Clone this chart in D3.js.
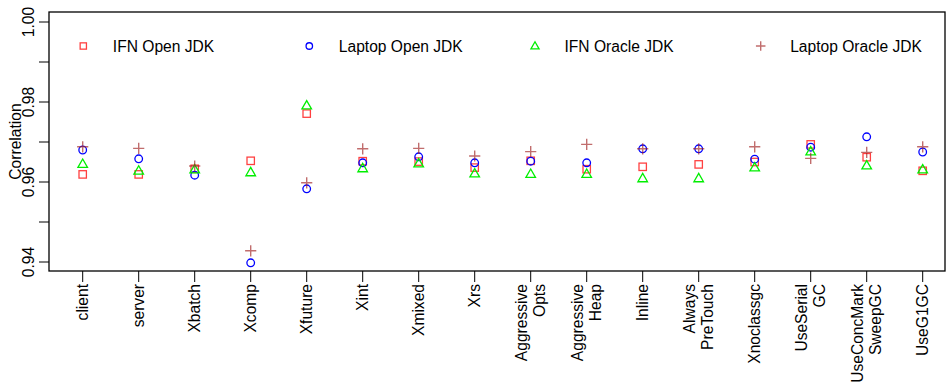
<!DOCTYPE html>
<html>
<head>
<meta charset="utf-8">
<script src="https://cdn.jsdelivr.net/npm/d3@7"></script>
<style>
  body { margin: 0; background: #fff; }
  svg text { font-family: "Liberation Sans", Arial, sans-serif; font-size: 15.6px; fill: #000; }
</style>
</head>
<body>
<svg id="chart" width="946" height="387"></svg>
<script>
// categories (multi-line labels split by lines)
var categories = [["client"], ["server"], ["Xbatch"], ["Xcomp"], ["Xfuture"], ["Xint"], ["Xmixed"], ["Xrs"],
  ["Aggressive", "Opts"], ["Aggressive", "Heap"], ["Inline"], ["Always", "PreTouch"], ["Xnoclassgc"],
  ["UseSerial", "GC"], ["UseConcMark", "SweepGC"], ["UseG1GC"]]

var ifnOpen      = [0.9619, 0.9619, 0.9633, 0.9653, 0.9771, 0.9652, 0.9651, 0.9636, 0.9653, 0.9632, 0.9638, 0.9644, 0.9650, 0.9694, 0.9662, 0.9628]
var laptopOpen   = [0.9680, 0.9658, 0.9617, 0.9398, 0.9583, 0.9648, 0.9663, 0.9648, 0.9652, 0.9648, 0.9683, 0.9683, 0.9657, 0.9687, 0.9713, 0.9675]
var ifnOracle    = [0.9645, 0.9628, 0.9631, 0.9624, 0.9791, 0.9634, 0.9646, 0.9621, 0.9620, 0.9620, 0.9609, 0.9609, 0.9636, 0.9676, 0.9641, 0.9631]
var laptopOracle = [0.9688, 0.9684, 0.9640, 0.9428, 0.9598, 0.9683, 0.9684, 0.9665, 0.9676, 0.9694, 0.9683, 0.9683, 0.9688, 0.9659, 0.9674, 0.9688]

var yTicks = [0.94, 0.95, 0.96, 0.97, 0.98, 0.99, 1.00]
var yLabels = [0.94, 0.96, 0.98, 1.00]

var series = [
  {name: "IFN Open JDK", values: ifnOpen, shape: "square", color: "rgba(255,0,0,0.75)"},
  {name: "Laptop Open JDK", values: laptopOpen, shape: "circle", color: "#0000ff"},
  {name: "IFN Oracle JDK", values: ifnOracle, shape: "triangle", color: "#00ee00"},
  {name: "Laptop Oracle JDK", values: laptopOracle, shape: "plus", color: "rgba(160,30,30,0.65)"}
]

var svg = d3.select("#chart")
var box = {left: 49, right: 945, top: 12, bottom: 271}

var x = d3.scalePoint()
    .domain(d3.range(categories.length))
    .range([82.7, 922.7])

var y = d3.scaleLinear()
    .domain([0.94, 1.00])
    .range([262, 22])

// marker drawing, k scales the marker size
function drawMarker(g, shape, color, cx, cy, k) {
  k = k || 1
  if (shape == "square") {
    var s = 3.7 * k
    g.append("rect")
      .attr("x", cx - s).attr("y", cy - s)
      .attr("width", 2 * s).attr("height", 2 * s)
      .attr("fill", "none").attr("stroke", color).attr("stroke-width", 1.3)
  } else if (shape == "circle") {
    g.append("circle")
      .attr("cx", cx).attr("cy", cy).attr("r", 3.8 * k)
      .attr("fill", "none").attr("stroke", color).attr("stroke-width", 1.3)
  } else if (shape == "triangle") {
    var h = 8.4 * k, w = 9.6 * k
    g.append("path")
      .attr("d", "M" + cx + "," + (cy - h * 0.6) + "L" + (cx + w / 2) + "," + (cy + h * 0.4) + "L" + (cx - w / 2) + "," + (cy + h * 0.4) + "Z")
      .attr("fill", "none").attr("stroke", color).attr("stroke-width", 1.3)
  } else {
    var a = 5.6 * k
    g.append("path")
      .attr("d", "M" + (cx - a) + "," + cy + "H" + (cx + a) + "M" + cx + "," + (cy - a) + "V" + (cy + a))
      .attr("fill", "none").attr("stroke", color).attr("stroke-width", 1.4)
  }
}

/* points */
var pts = svg.append("g").attr("class", "points")
series.forEach(function(s) {
  s.values.forEach(function(v, i) {
    drawMarker(pts, s.shape, s.color, x(i), y(v))
  })
})

/* box */
svg.append("rect")
  .attr("x", box.left).attr("y", box.top)
  .attr("width", box.right - box.left).attr("height", box.bottom - box.top)
  .attr("fill", "none").attr("stroke", "#000").attr("stroke-width", 1.3)

/* y axis */
var yAxis = svg.append("g").attr("class", "y-axis")
yAxis.selectAll("line")
    .data(yTicks)
  .enter().append("line")
    .attr("x1", box.left - 10).attr("x2", box.left)
    .attr("y1", function(d) { return y(d) }).attr("y2", function(d) { return y(d) })
    .attr("stroke", "#000").attr("stroke-width", 1)
yAxis.selectAll("text")
    .data(yLabels)
  .enter().append("text")
    .attr("transform", function(d) { return "translate(34," + y(d) + ") rotate(-90)" })
    .attr("text-anchor", "middle")
    .text(function(d) { return d3.format(".2f")(d) })

svg.append("text")
  .attr("transform", "translate(21," + ((box.top + box.bottom) / 2) + ") rotate(-90)")
  .attr("text-anchor", "middle")
  .text("Correlation")

/* x axis */
var xAxis = svg.append("g").attr("class", "x-axis")
xAxis.selectAll("line")
    .data(categories)
  .enter().append("line")
    .attr("x1", function(d, i) { return x(i) }).attr("x2", function(d, i) { return x(i) })
    .attr("y1", box.bottom).attr("y2", box.bottom + 11)
    .attr("stroke", "#000").attr("stroke-width", 1)

var labels = xAxis.selectAll("text")
    .data(categories)
  .enter().append("text")
    .attr("transform", function(d, i) { return "translate(" + x(i) + "," + (box.bottom + 13) + ") rotate(-90)" })
    .attr("text-anchor", "end")
labels.selectAll("tspan")
    .data(function(d) { return d.map(function(line, j) { return {line: line, off: (j - (d.length - 1) / 2) * 18} }) })
  .enter().append("tspan")
    .attr("x", 0)
    .attr("y", function(d) { return d.off + 5.6 })
    .text(function(d) { return d.line })

/* legend */
var legendX = [83.3, 309.3, 535, 760.7]
var legend = svg.append("g").attr("class", "legend")
series.forEach(function(s, i) {
  drawMarker(legend, s.shape, s.color, legendX[i], 46, 0.85)
  legend.append("text")
    .attr("x", legendX[i] + 29.5)
    .attr("y", 51.6)
    .text(s.name)
})
</script>
</body>
</html>
